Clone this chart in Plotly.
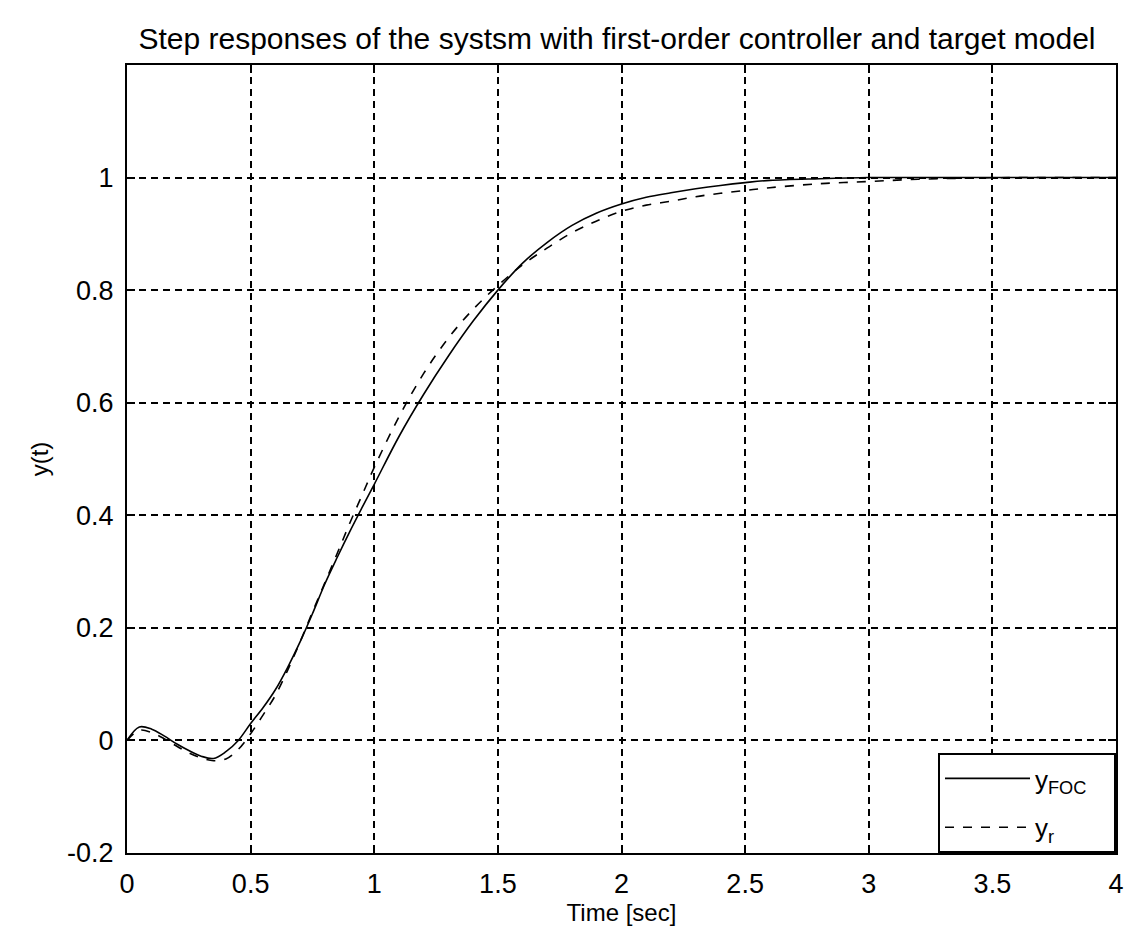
import plotly.graph_objects as go

t = [0, 0.05, 0.1, 0.15, 0.2, 0.25, 0.3, 0.35, 0.4, 0.45, 0.5, 0.55, 0.6, 0.65, 0.7,
     0.75, 0.8, 0.85, 0.9, 0.95, 1.0, 1.1, 1.2, 1.3, 1.4, 1.5, 1.6, 1.7, 1.8, 1.9,
     2.0, 2.1, 2.2, 2.3, 2.4, 2.5, 2.6, 2.8, 3.0, 3.2, 3.4, 3.6, 3.8, 4.0]

y_foc = [0, 0.024, 0.02, 0.008, -0.006, -0.018, -0.028, -0.032, -0.02, 0.0, 0.03,
         0.058, 0.09, 0.13, 0.175, 0.225, 0.278, 0.325, 0.37, 0.413, 0.455, 0.54,
         0.615, 0.683, 0.745, 0.80, 0.848, 0.885, 0.915, 0.937, 0.953, 0.965,
         0.973, 0.98, 0.986, 0.991, 0.995, 0.998, 1.0, 1.0, 1.0, 1.0, 1.0, 1.0]

y_r = [0, 0.018, 0.014, 0.003, -0.01, -0.022, -0.031, -0.036, -0.033, -0.016, 0.012,
       0.045, 0.08, 0.125, 0.175, 0.228, 0.28, 0.332, 0.385, 0.435, 0.485, 0.575,
       0.652, 0.715, 0.766, 0.808, 0.845, 0.875, 0.902, 0.923, 0.94, 0.951, 0.958,
       0.966, 0.972, 0.977, 0.982, 0.989, 0.993, 0.997, 0.999, 1.0, 1.0, 1.0]

x_ticks = [0, 0.5, 1, 1.5, 2, 2.5, 3, 3.5, 4]
x_tick_labels = ["0", "0.5", "1", "1.5", "2", "2.5", "3", "3.5", "4"]
y_ticks = [-0.2, 0, 0.2, 0.4, 0.6, 0.8, 1]
y_tick_labels = ["-0.2", "0", "0.2", "0.4", "0.6", "0.8", "1"]

FONT = "Liberation Sans, Arial, sans-serif"
PAD = "&nbsp;" * 3

fig = go.Figure()
fig.add_trace(go.Scatter(x=t, y=y_foc, mode="lines", name="y<sub>FOC</sub>" + PAD, legendgroup="a",
                         line=dict(color="black", width=1.6, shape="spline")))
fig.add_trace(go.Scatter(x=t, y=y_r, mode="lines", name="y<sub>r</sub>" + PAD, legendgroup="b",
                         line=dict(color="black", width=1.6, dash="dash", shape="spline")))

axis_common = dict(
    showline=True, linecolor="black", linewidth=2, mirror="ticks",
    ticks="inside", ticklen=8, tickcolor="black", tickwidth=1.5,
    showgrid=True, gridcolor="black", gridwidth=1.8, griddash="7px,5px",
    zeroline=False, ticklabelstandoff=6, automargin=False,
    tickfont=dict(family=FONT, size=27, color="black"),
)

fig.update_xaxes(range=[0, 4], tickvals=x_ticks, ticktext=x_tick_labels,
                 title=dict(text="Time [sec]", font=dict(family=FONT, size=24, color="black"), standoff=2),
                 **axis_common)
fig.update_yaxes(range=[-0.2, 1.2], tickvals=y_ticks, ticktext=y_tick_labels,
                 title=dict(text="y(t)", font=dict(family=FONT, size=24, color="black"), standoff=12),
                 **axis_common)

fig.update_layout(
    width=1124, height=930,
    margin=dict(l=127, r=8, t=65, b=77),
    paper_bgcolor="white", plot_bgcolor="white",
    title=dict(text="Step responses of the systsm with first-order controller and target model",
               x=617 / 1124, xanchor="center", y=1 - 38 / 930, yanchor="middle",
               font=dict(family=FONT, size=30, color="black")),
    legend=dict(x=1, y=0, xanchor="right", yanchor="bottom",
                bgcolor="white", bordercolor="black", borderwidth=2,
                font=dict(family=FONT, size=26, color="black"),
                itemwidth=85, tracegroupgap=12),
    showlegend=True,
)

fig.write_html(
    "out.html",
    config={"displayModeBar": False},
    post_script="document.body.style.margin='0';document.body.style.overflow='hidden';"
                "document.documentElement.style.overflow='hidden';",
)
